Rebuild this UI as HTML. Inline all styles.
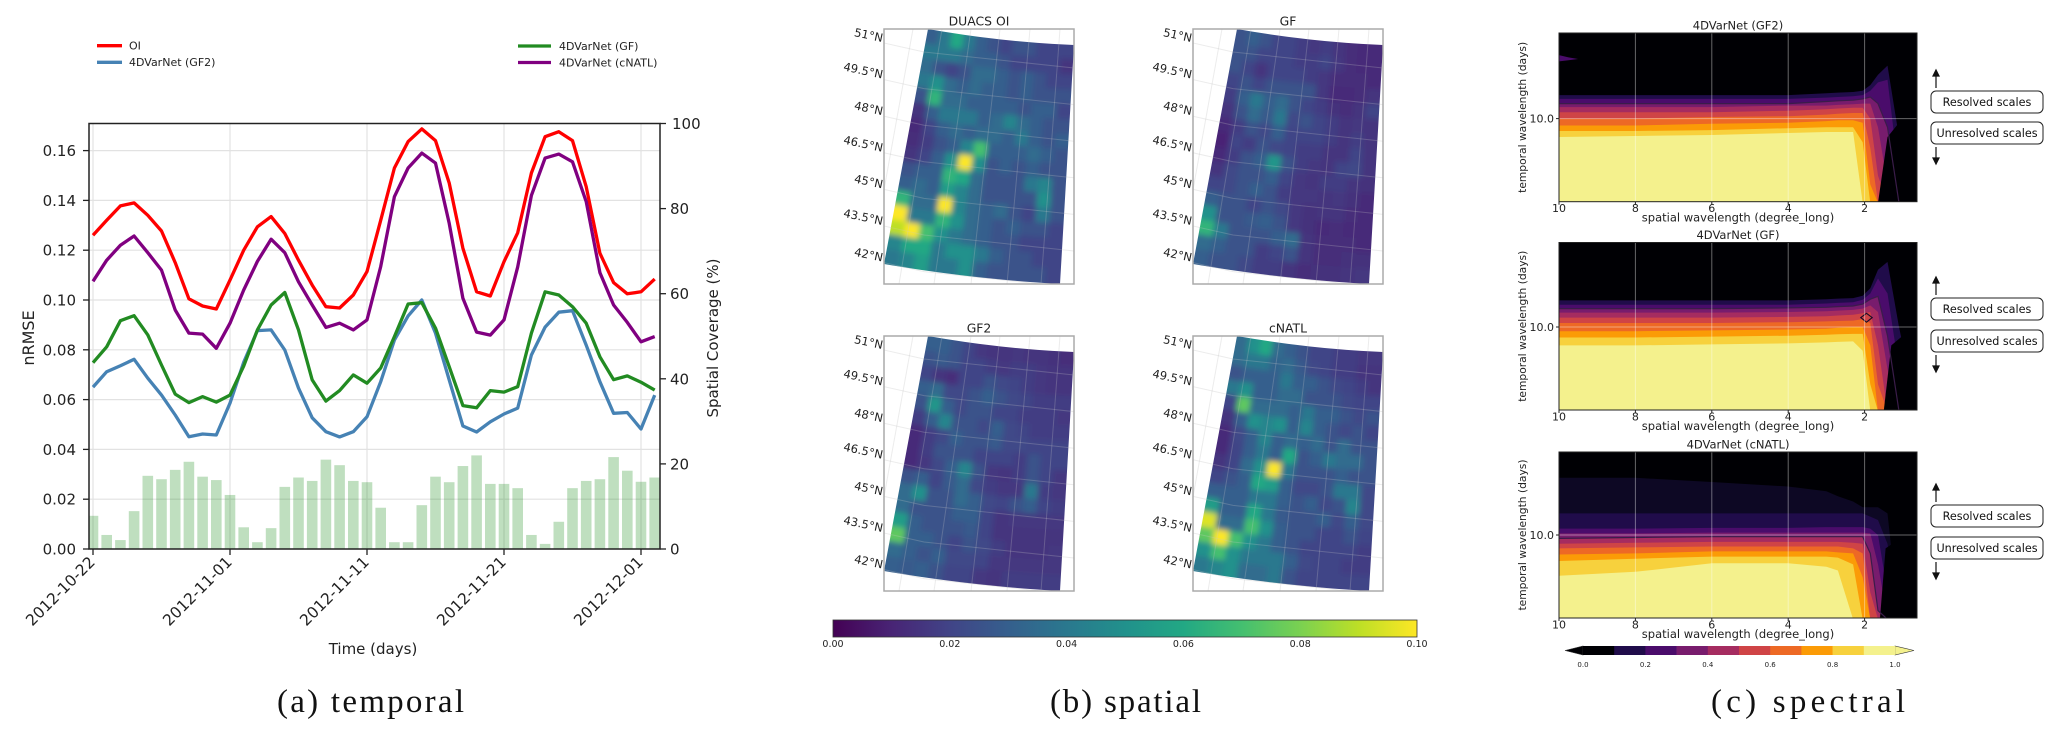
<!DOCTYPE html>
<html lang="en">
<head>
<meta charset="utf-8">
<title>Temporal, spatial and spectral comparison</title>
<style>
html,body{margin:0;padding:0;background:#fff;}
svg{display:block;font-family:"DejaVu Sans","Liberation Sans",sans-serif;}
</style>
</head>
<body>
<svg id="fig" xmlns="http://www.w3.org/2000/svg" width="2067" height="738" viewBox="0 0 2067 738">
  <defs>
    <clipPath id="plot-clip"><rect x="89" y="123.5" width="571" height="425.5"/></clipPath>
    <filter id="map-blur" filterUnits="userSpaceOnUse" x="840" y="0" width="600" height="620"><feGaussianBlur stdDeviation="3"/></filter>
    <linearGradient id="viridis-gradient" x1="0" x2="1" y1="0" y2="0"></linearGradient>
  </defs>
  <rect x="0" y="0" width="2067" height="738" fill="#fff"/>

  <g id="temporal"></g>
  <g id="spatial"></g>
  <g id="spectral"></g>

  <g font-size="11" fill="#222">
    <line x1="97" x2="122" y1="45.7" y2="45.7" stroke="#ff0000" stroke-width="3.3"/>
    <text x="129" y="49.5">OI</text>
    <line x1="97" x2="122" y1="62.3" y2="62.3" stroke="#4682b4" stroke-width="3.3"/>
    <text x="129" y="66.2">4DVarNet (GF2)</text>
    <line x1="518" x2="551" y1="46" y2="46" stroke="#228b22" stroke-width="3.3"/>
    <text x="559" y="49.8">4DVarNet (GF)</text>
    <line x1="518" x2="551" y1="62.5" y2="62.5" stroke="#800080" stroke-width="3.3"/>
    <text x="559" y="66.3">4DVarNet (cNATL)</text>
  </g>

  <text transform="translate(34 338) rotate(-90)" text-anchor="middle" font-size="16" fill="#222">nRMSE</text>
  <text transform="translate(718 338) rotate(-90)" text-anchor="middle" font-size="15" fill="#222">Spatial Coverage (%)</text>
  <text x="373" y="654" text-anchor="middle" font-size="15" fill="#222">Time (days)</text>

  <g font-family="'Liberation Serif',serif" font-size="33" fill="#111">
    <text x="277" y="712" textLength="187" lengthAdjust="spacing">(a) temporal</text>
    <text x="1050" y="712" textLength="151" lengthAdjust="spacing">(b) spatial</text>
    <text x="1711" y="712" textLength="194" lengthAdjust="spacing">(c) spectral</text>
  </g>
</svg>

<script>
/* ---------- (a) temporal chart data ---------- */
const dayIndex = [0,1,2,3,4,5,6,7,8,9,10,11,12,13,14,15,16,17,18,19,20,21,22,23,24,25,26,27,28,29,30,31,32,33,34,35,36,37,38,39,40,41];
const oiValues = [0.126,0.132,0.1378,0.139,0.134,0.1277,0.115,0.1005,0.0976,0.0964,0.108,0.12,0.1294,0.1335,0.1267,0.116,0.106,0.0973,0.0968,0.102,0.1114,0.132,0.153,0.1636,0.1687,0.164,0.147,0.1208,0.1033,0.1016,0.1154,0.127,0.151,0.1656,0.1676,0.164,0.1455,0.1188,0.107,0.1025,0.1033,0.1084];
const gf2Values = [0.065,0.0712,0.0736,0.0762,0.0686,0.0618,0.0538,0.0451,0.0462,0.0458,0.0586,0.075,0.0877,0.088,0.0799,0.0646,0.0527,0.0471,0.045,0.0471,0.0531,0.0672,0.0839,0.0936,0.1,0.0867,0.0679,0.0494,0.047,0.0511,0.0542,0.0566,0.0779,0.0891,0.0951,0.0957,0.0819,0.0672,0.0545,0.0548,0.0482,0.0618];
const gfValues = [0.0748,0.0812,0.0917,0.0937,0.086,0.0739,0.0622,0.0588,0.0612,0.059,0.0618,0.0735,0.088,0.098,0.103,0.088,0.0679,0.0594,0.0636,0.0699,0.0666,0.0727,0.0853,0.0984,0.0989,0.0887,0.0732,0.0576,0.0567,0.0636,0.063,0.0652,0.0867,0.1033,0.102,0.0973,0.0907,0.0772,0.068,0.0695,0.067,0.0638];
const cnatlValues = [0.1075,0.116,0.122,0.1257,0.119,0.112,0.096,0.0867,0.0863,0.0806,0.0907,0.104,0.1155,0.1244,0.119,0.1073,0.098,0.089,0.0907,0.088,0.092,0.1134,0.1415,0.153,0.159,0.155,0.1308,0.1007,0.0871,0.0859,0.092,0.1133,0.142,0.157,0.1586,0.1555,0.1395,0.111,0.098,0.091,0.0832,0.0853];
const coverageValues = [7.8,3.3,2.1,8.9,17.2,16.4,18.6,20.5,17,16.2,12.7,5.1,1.6,4.9,14.6,16.8,16,21,19.7,16,15.7,9.7,1.6,1.6,10.3,17,15.7,19.5,22,15.3,15.3,14.3,3.3,1.2,6.4,14.3,16,16.4,21.6,18.4,15.8,16.8];
const nrmseTicks = [0,0.02,0.04,0.06,0.08,0.1,0.12,0.14,0.16];
const coverageTicks = [0,20,40,60,80,100];
const dateTickDays = [0,10,20,30,40];
const dateTickLabels = ["2012-10-22","2012-11-01","2012-11-11","2012-11-21","2012-12-01"];

/* ---------- (b) spatial map data: gridded nRMSE x 100 ---------- */
const oiMap = [
[3,4,6,4,3,2.5,2,2.5,2.5,2,2,2],
[4,4,4,3.5,3,3,2.5,2,2,2,2,1.5],
[3.5,2.5,2,2.5,3.5,3.5,3,2.5,3,2.5,2,2],
[4,5,3.5,3,3.5,3,3,2.5,3,2.5,2.5,2.5],
[2.5,6.5,3.5,3.5,3,3,3,3,2.5,3,3,2],
[1.5,3,4,4,4,3,3.5,4.5,3.5,3,2.5,2.5],
[1.2,2,3,3.5,3,3.5,3.5,3,4,3,2.5,3],
[1.3,1.8,2.5,3,4.5,7,3,3,3,3.5,3,2.5],
[1.5,2,3,5,11,5,2.5,3,2.5,3,2.5,2.5],
[2.5,3,3,6.5,6,3.5,2.5,2.5,2.5,4,4.5,2.5],
[3,3.5,3,5.5,4.5,3.5,2.5,2.5,2.5,2.5,5,2.5],
[6.5,3.5,3.5,10.5,4.5,3.5,3,3.5,2.5,2,4,2.5],
[10,4,4,6.5,5,3.5,3,2.5,3,2.5,2.5,2],
[9,11,7,5,4,3.5,3,2.5,2.5,2,2,2],
[4.5,6,6,4,5,5,4,3,2.5,2.5,2,2],
[4,4.5,5.5,4,4,5,3,2.5,2.5,2.5,2.5,2]];
const gfMap = [
[2.5,3,2.5,2,2,1.8,1.6,1.8,1.5,1.3,1.2,1.2],
[2.5,2.5,2,2,2,1.8,1.8,2,1.6,1.3,1.2,1.2],
[2.5,2,1.5,2,2,2,1.8,1.6,1.3,1.3,1.3,1.2],
[2,2.5,2,2.5,2.5,2.5,2.5,1.6,1.2,1.2,1.3,1.5],
[1.8,3,4,3,3.5,2.5,2,1.8,1.4,1.3,1.5,2],
[1.5,2.5,3.5,2.8,4,2.2,2.5,2,1.8,1.5,1.6,1.5],
[1.2,1.8,2.5,2.2,3,2,2,2,1.8,1.5,1.8,1.5],
[1,2,1.8,2.5,2.2,2,1.8,1.8,1.5,1.5,2,1.5],
[1.2,1.8,2.5,3,5.2,2.5,1.8,1.6,1.5,2,2.2,1.5],
[1.5,2.2,2.5,2.5,3,2,1.6,1.5,1.8,1.8,1.5,1.4],
[2,2.2,2.5,3,2.5,1.8,1.6,1.6,1.5,1.6,1.4,1.2],
[3,2.5,2.5,2,2.5,2.2,1.6,1.4,1.5,1.5,1.3,1.2],
[5,2.5,2.5,2.8,3,2.5,1.6,1.4,1.2,1.3,1.2,1.2],
[6.5,4,2.5,2.5,2.5,3,3.5,1.5,1.3,1.3,1.3,1.2],
[3.5,3,2.5,2.5,1.8,2,2.5,1.5,1.3,1.3,1.4,1.4],
[3,2.5,2.5,2.2,1.8,1.8,1.5,1.3,1.4,1.4,1.5,1.6]];
const gf2Map = [
[3,3,2.5,2,1.6,1.5,1.5,1.6,1.5,1.5,1.4,1.3],
[2.5,2.8,2.5,2,2,1.8,1.6,1.8,1.8,1.6,1.5,1.5],
[2,1.5,1.3,2,2,2.5,2.2,2,1.8,1.6,1.5,1.5],
[3,3.5,2.2,2.2,2.5,3,2.5,2.2,2,1.8,1.8,1.8],
[2.5,5.2,3,2.2,2.5,2.5,2,2,1.8,1.8,1.8,1.6],
[1.8,3,4.5,2.5,2.5,2.2,3,2.2,2,1.8,1.8,1.8],
[1.2,1.8,2.2,3,2.5,2.5,2.8,2.2,2.2,2,2,2],
[1.2,1.8,2.5,2.5,2.5,2,2,2,1.8,2.5,2,2],
[1.2,1.6,2.2,3,4.5,2.5,1.6,1.5,1.8,2.5,2,1.6],
[2.5,3,2,2.8,3.5,2.2,1.8,1.6,1.6,4,1.8,1.6],
[3.5,5,2.5,2.5,3.5,3,2.2,2,2.5,3,2,1.8],
[3.5,2.5,2.5,2.5,3,3,2,1.5,1.6,1.6,1.6,1.6],
[5.5,3,2.5,2.5,2.5,2.8,2,1.5,1.5,1.5,1.5,1.5],
[7.5,3,3,2.5,2,2.5,2.2,1.8,1.5,1.5,1.5,1.6],
[3.5,3,2.5,3,2.2,2.2,2,1.6,1.6,1.6,1.6,1.6],
[3,2.8,3,2.5,2,2,1.6,1.5,1.8,1.8,1.8,1.8]];
const cnatlMap = [
[3.5,5,6,3.5,3,2.5,2,2,1.8,1.8,1.6,1.6],
[3.5,4,4,3.2,3.5,2.8,2.2,2,1.8,1.8,1.5,1.5],
[2.5,3,3,3,4,3,3,2.5,2.2,2,1.8,1.5],
[4,5,3,3,3.5,3.5,2.5,2.5,2.5,2.2,2,2],
[2,7.5,3.5,3.5,3.5,3,4,3,3,2.5,2.2,2.5],
[1.5,3,5,4.5,5,3,4.5,3,2.5,2.2,2.5,2],
[1.2,2.2,3,4.5,3,3.5,3,3.5,2.5,3.5,2.5,2.5],
[1.2,2,3,4,3,6,2.5,3,4,3.5,3.5,2.5],
[1.5,2,3.5,5,11,4,2.5,2.5,2.5,3,2.5,2.5],
[2,2.5,3,6,5.5,3,2.2,2.2,2.5,4,4,2.2],
[3,3,3,4,4,3,2.5,3,2.2,2.5,4.5,2.2],
[5.5,3,3,6,4,2.8,2.5,2.5,3,2.2,3,2.2],
[9.5,3.5,3.5,7,5,3,2.5,2.5,2,2,2.5,2],
[7.5,11,7,5,4,3,2.5,2,2,2,2,1.8],
[5,7,5,4,4,4,3,2.2,2,2,1.8,1.8],
[4,4.5,5,3.5,3.5,4,2.5,2,2,2,2,2]];
const latitudeLabels = ["51°N","49.5°N","48°N","46.5°N","45°N","43.5°N","42°N"];
const mapColorbarTicks = [0,0.02,0.04,0.06,0.08,0.10];

/* ---------- (c) spectral data: contour boundary in days per level ---------- */
const spatialWavelengths = [10,8,6,4,3,2.7,2.3,2.05,1.85,1.65,1.4,1.1,0.63];
const spectralTicksX = [10,8,6,4,2];
const spectralColorbarTicks = [0,0.2,0.4,0.6,0.8,1];
const spectralLevels = [0.1,0.2,0.3,0.4,0.5,0.6,0.7,0.8,0.9];
const gf2Bounds = [
[13.3,13.3,13.3,13.3,13.6,13.7,13.8,14,15,17,19,8,3.6],
[12.7,12.7,12.7,12.7,12.9,13,13.1,13.3,14,15.5,16,5,3.6],
[12,12,12,12,12.3,12.4,12.5,12.7,13,12,9,3.6,3.6],
[11.5,11.5,11.5,11.7,11.7,11.8,11.9,12,12,9,4.5,3.6,3.6],
[10.8,10.8,10.8,11,11.2,11.3,11.4,11.4,10,5,3.6,3.6,3.6],
[10,10,10.2,10.3,10.5,10.6,10.7,10.7,7,3.6,3.6,3.6,3.6],
[9.2,9.2,9.4,9.5,9.7,9.8,9.8,9.5,4.5,3.6,3.6,3.6,3.6],
[8.6,8.6,8.7,8.9,9,9,9,7.5,3.6,3.6,3.6,3.6,3.6],
[8,8.1,8.2,8.4,8.5,8.5,8.5,3.6,3.6,3.6,3.6,3.6,3.6]];
const gfBounds = [
[13.8,13.8,13.8,13.8,14,14.1,14.2,14.6,16,20,22,10,3.6],
[13.1,13.1,13.1,13.1,13.3,13.4,13.5,13.9,15,18,15,6,3.6],
[12.5,12.5,12.5,12.6,12.7,12.8,12.9,13.2,14,14.5,9,3.6,3.6],
[11.9,11.9,11.9,12,12.1,12.2,12.3,12.5,13,12,6,3.6,3.6],
[11.2,11.2,11.2,11.3,11.4,11.5,11.6,11.8,12,8,3.6,3.6,3.6],
[10.5,10.5,10.5,10.6,10.7,10.75,10.8,11,10.5,5,3.6,3.6,3.6],
[9.5,9.5,9.6,9.7,9.8,9.9,10,10,8,3.6,3.6,3.6,3.6],
[8.8,8.8,8.9,9,9.1,9.15,9.2,9.2,5,3.6,3.6,3.6,3.6],
[8,8,8.1,8.2,8.3,8.35,8.4,7.5,3.6,3.6,3.6,3.6,3.6]];
const cnatlBounds = [
[13,13,13,13,13,13,13,13,12.5,12,9,3.6,3.6],
[10.8,10.8,10.9,10.9,11,11,11,11,10.8,10,5,3.6,3.6],
[10.2,10.2,10.3,10.3,10.3,10.3,10.3,10.3,10.2,7,3.6,3.6,3.6],
[9.6,9.7,9.8,9.8,9.8,9.8,9.8,9.8,8,4,3.6,3.6,3.6],
[9,9.1,9.2,9.2,9.2,9.2,9.1,9,5,3.6,3.6,3.6,3.6],
[8.5,8.6,8.7,8.7,8.7,8.7,8.5,8,3.6,3.6,3.6,3.6,3.6],
[7.9,8,8.2,8.2,8.2,8.1,8,6,3.6,3.6,3.6,3.6,3.6],
[7.3,7.5,7.7,7.7,7.7,7.6,7,3.6,3.6,3.6,3.6,3.6,3.6],
[6.1,6.4,7.1,7.1,6.8,6.5,3.6,3.6,3.6,3.6,3.6,3.6,3.6]];
const cnatlFaintBound = [20,20,19,18,17,16,15,14,14,14,13,3.6,3.6];
const gf2PatchSpatial = [10,9.75,9.5,9.75,10];
const gf2PatchDays = [21.6,21,20.6,20.3,20];
const gfDiamondSpatial = [2.1,1.95,1.8,1.95,2.1];
const gfDiamondDays = [11.2,11.8,11.2,10.6,11.2];
const gf2MaskSpatial = [1.65,1.4,1.1,0.63,0.63,1.65];
const gf2MaskDays = [3.6,8,9.5,9.5,3.6,3.6];
const gfMaskSpatial = [1.5,1.3,1,0.63,0.63,1.5];
const gfMaskDays = [3.6,8,9,9,3.6,3.6];
const cnatlMaskSpatial = [1.6,1.45,1.1,0.63,0.63,1.6];
const cnatlMaskDays = [3.6,8.5,9.5,9.5,3.6,3.6];

/* ---------- helpers ---------- */
const NS = "http://www.w3.org/2000/svg";
function make(tag, attrs, parent) {
  const node = document.createElementNS(NS, tag);
  for (const k in attrs) node.setAttribute(k, attrs[k]);
  parent.appendChild(node);
  return node;
}
const viridisStops = ["#440154","#482475","#414487","#355f8d","#2a788e","#21918c","#22a884","#44bf70","#7ad151","#bddf26","#fde725"];
function hexRgb(h){return [parseInt(h.slice(1,3),16),parseInt(h.slice(3,5),16),parseInt(h.slice(5,7),16)];}
function viridis(t){
  const c = Math.max(0,Math.min(1,t))*10;
  const i = Math.min(9,Math.floor(c));
  const f = c-i;
  const a = hexRgb(viridisStops[i]);
  const b = hexRgb(viridisStops[i+1]);
  return "rgb("+a.map((v,k)=>Math.round(v+(b[k]-v)*f)).join(",")+")";
}

/* ---------- (a) temporal chart ---------- */
const plotLeft=89, plotRight=660, plotTop=123.5, plotBottom=549;
const xDay = d => 93 + 13.7*d;
const yNrmse = v => plotBottom - v*2490;
const yCoverage = v => plotBottom - v*(plotBottom-plotTop)/100;
const temporal = document.getElementById("temporal");

nrmseTicks.forEach(v => {
  const grid = make("line",{x1:plotLeft,x2:plotRight,y1:yNrmse(v),y2:yNrmse(v),stroke:"#e2e2e2","stroke-width":1.2},temporal);
  
  
  const tick = make("line",{x1:plotLeft-6,x2:plotLeft,y1:yNrmse(v),y2:yNrmse(v),stroke:"#222","stroke-width":1.3},temporal);
  
  
  const label = make("text",{x:76,y:yNrmse(v)+5.5,"text-anchor":"end","font-size":15,fill:"#222"},temporal);
  
  
  label.textContent = v.toFixed(2);
});
dateTickDays.forEach((d,i) => {
  const grid = make("line",{x1:xDay(d),x2:xDay(d),y1:plotTop,y2:plotBottom,stroke:"#e2e2e2","stroke-width":1.2},temporal);
  
  
  const tick = make("line",{x1:xDay(d),x2:xDay(d),y1:plotBottom,y2:plotBottom+6,stroke:"#222","stroke-width":1.3},temporal);
  
  
  const label = make("text",{transform:"translate("+(xDay(d)+3)+" "+(plotBottom+14)+") rotate(-45)","text-anchor":"end","font-size":15.5,fill:"#222"},temporal);
  
  
  label.textContent = dateTickLabels[i];
});
const barGroup = make("g",{"clip-path":"url(#plot-clip)"},temporal);


dayIndex.forEach((d,i) => {
  const bar = make("rect",{x:xDay(d)-5.3,width:10.6,y:yCoverage(coverageValues[i]),height:plotBottom-yCoverage(coverageValues[i]),fill:"#008000","fill-opacity":0.25},barGroup);
  
  
});
function drawSeries(values,color,name){
  const path = make("polyline",{points:dayIndex.map((d,i)=>xDay(d).toFixed(1)+","+yNrmse(values[i]).toFixed(1)).join(" "),fill:"none",stroke:color,"stroke-width":3.3,"stroke-linejoin":"round"},temporal);
  
  
}
drawSeries(oiValues,"#ff0000","series-oi");
drawSeries(gf2Values,"#4682b4","series-gf2");
drawSeries(gfValues,"#228b22","series-gf");
drawSeries(cnatlValues,"#800080","series-cnatl");

const axisFrame = make("rect",{x:plotLeft,y:plotTop,width:plotRight-plotLeft,height:plotBottom-plotTop,fill:"none",stroke:"#222","stroke-width":1.5},temporal);


coverageTicks.forEach(v => {
  const tick = make("line",{x1:plotRight,x2:plotRight+6,y1:yCoverage(v),y2:yCoverage(v),stroke:"#222","stroke-width":1.3},temporal);
  
  
  const label = make("text",{x:v===100?672:670,y:yCoverage(v)+5.5,"font-size":15,fill:"#222"},temporal);
  
  
  label.textContent = String(v);
});

/* ---------- (b) spatial maps ---------- */
const spatial = document.getElementById("spatial");
const mapWidth=190, mapHeight=255;
function warp(u,v){
  const x = (1-v)*((1-u)*44+u*190) + v*(u*176);
  const y = (1-v)*(u*16) + v*((1-u)*235+u*255) + 10*u*(1-u);
  return [x,y];
}
function drawMap(grid,ox,oy,title,key){
  const rows=grid.length, cols=grid[0].length;
  const clipId="clip-"+key;
  const defs=make("clipPath",{id:clipId},spatial);
  const outline=[];
  for(let k=0;k<=20;k++){const p=warp(k/20,0);outline.push((ox+p[0])+","+(oy+p[1]));}
  for(let k=20;k>=0;k--){const p=warp(k/20,1);outline.push((ox+p[0])+","+(oy+p[1]));}
  make("polygon",{points:outline.join(" ")},defs);
  const frameClip=make("clipPath",{id:clipId+"-frame"},spatial);
  make("rect",{x:ox,y:oy,width:mapWidth,height:mapHeight},frameClip);

  const latLines=make("g",{"clip-path":"url(#"+clipId+"-frame)",fill:"none"},spatial);
  
  

  const shell=make("g",{"clip-path":"url(#"+clipId+")"},spatial);
  
  
  const blurred=make("g",{filter:"url(#map-blur)"},shell);
  
  
  grid.forEach((row,j)=>row.forEach((value,i)=>{
    const u0=i===0?-0.15:i/cols, u1=i===cols-1?1.15:(i+1)/cols;
    const v0=j===0?-0.12:j/rows, v1=j===rows-1?1.12:(j+1)/rows;
    const pts=[warp(u0,v0),warp(u1,v0),warp(u1,v1),warp(u0,v1)].map(p=>(ox+p[0]).toFixed(1)+","+(oy+p[1]).toFixed(1)).join(" ");
    const col=viridis(value/10);
    const cell=make("polygon",{points:pts,fill:col,stroke:col,"stroke-width":1},blurred);
    
    
  }));
  const drawGraticule=(parent,opacity)=>{
    latitudeLabels.forEach((_,k)=>{
      const y0=oy+14+36.6*k;
      const line=make("polyline",{points:ox+","+y0+" "+(ox+40)+","+(y0+9)+" "+(ox+190)+","+(y0+25),fill:"none",stroke:"#c8c8c8","stroke-opacity":opacity,"stroke-width":1},parent);
      
      
    });
    [[29,-17],[58,15],[87,50],[116,87],[146,123],[176,157]].forEach(e=>{
      const line=make("line",{x1:ox+e[0],y1:oy,x2:ox+e[1],y2:oy+mapHeight,stroke:"#c8c8c8","stroke-opacity":opacity,"stroke-width":1},parent);
      
      
    });
  };
  drawGraticule(latLines,0.35);
  drawGraticule(shell,0.26);

  const frame=make("rect",{x:ox,y:oy,width:mapWidth,height:mapHeight,fill:"none",stroke:"#aaa","stroke-width":1.5},spatial);
  
  
  const titleText=make("text",{x:ox+95,y:oy-3.5,"text-anchor":"middle","font-size":12.4,fill:"#222"},spatial);
  
  
  titleText.textContent=title;
  latitudeLabels.forEach((lab,k)=>{
    const yc=oy+9+36.6*k;
    const t=make("text",{transform:"translate("+(ox-2)+" "+(yc+4)+") rotate(12)","text-anchor":"end","font-size":11.5,fill:"#222"},spatial);
    
    
    t.textContent=lab;
  });
}
drawMap(oiMap,884,29,"DUACS OI","oi");
drawMap(gfMap,1193,29,"GF","gf");
drawMap(gf2Map,884,336,"GF2","gf2");
drawMap(cnatlMap,1193,336,"cNATL","cnatl");

const gradient=document.getElementById("viridis-gradient");
viridisStops.forEach((c,i)=>{make("stop",{offset:(i*10)+"%","stop-color":c},gradient);});
const mapBar=make("rect",{x:833,y:620,width:584,height:17,fill:"url(#viridis-gradient)",stroke:"#333","stroke-width":0.8},spatial);


mapColorbarTicks.forEach(v=>{
  const x=833+v/0.1*584;
  const t=make("text",{x:x,y:647,"text-anchor":"middle","font-size":9.5,fill:"#222"},spatial);
  
  
  t.textContent=v.toFixed(2);
});

/* ---------- (c) spectral panels ---------- */
const spectral=document.getElementById("spectral");
const bandColors=["#200c4a","#4a0c6b","#781c6d","#a52c60","#cf4446","#ed6925","#fb9b06","#f7d13d","#f4f18d"];
const xSpatial=v=>1559+(10-v)*38.2;
const specLeft=1559, specRight=1917;
function drawSpectral(bounds,faint,maskSpatial,maskDays,top,bottom,tickY,title,key,contourIdx,boxes){
  const ySpec=d=>tickY-190*Math.log10(d/10);
  const clip=make("clipPath",{id:"spec-clip-"+key},spectral);
  make("rect",{x:specLeft,y:top,width:specRight-specLeft,height:bottom-top},clip);
  const bg=make("rect",{x:specLeft,y:top,width:specRight-specLeft,height:bottom-top,fill:"#000004"},spectral);
  
  
  const plot=make("g",{"clip-path":"url(#spec-clip-"+key+")"},spectral);
  
  
  const boundaryPts=arr=>spatialWavelengths.map((s,i)=>xSpatial(s).toFixed(1)+","+ySpec(arr[i]).toFixed(1));
  if(faint){
    const f=make("polygon",{points:boundaryPts(faint).concat([specRight+","+bottom,specLeft+","+bottom]).join(" "),fill:"#0d0824"},plot);
    
    
  }
  bounds.forEach((arr,k)=>{
    const band=make("polygon",{points:boundaryPts(arr).concat([specRight+","+bottom,specLeft+","+bottom]).join(" "),fill:bandColors[k]},plot);
    
    
  });
  const mask=make("polygon",{points:maskSpatial.map((s,i)=>xSpatial(s).toFixed(1)+","+ySpec(maskDays[i]).toFixed(1)).join(" "),fill:"#000004"},plot);
  
  
  const contour=make("polyline",{points:boundaryPts(bounds[contourIdx]).join(" "),fill:"none",stroke:"#3a1c4a","stroke-width":1.2},plot);
  
  
  if(key==="gf2"){
    const patch=make("polygon",{points:gf2PatchSpatial.map((s,i)=>xSpatial(s).toFixed(1)+","+ySpec(gf2PatchDays[i]).toFixed(1)).join(" "),fill:"#4a0c6b"},plot);
    
    
  }
  if(key==="gf"){
    const diamond=make("polygon",{points:gfDiamondSpatial.map((s,i)=>xSpatial(s).toFixed(1)+","+ySpec(gfDiamondDays[i]).toFixed(1)).join(" "),fill:"none",stroke:"#160a26","stroke-width":1.1},plot);
    
    
  }
  spectralTicksX.forEach(v=>{
    const g=make("line",{x1:xSpatial(v),x2:xSpatial(v),y1:top,y2:bottom,stroke:"#fff","stroke-opacity":0.4,"stroke-width":1},plot);
    
    
    const tick=make("line",{x1:xSpatial(v),x2:xSpatial(v),y1:bottom,y2:bottom+3,stroke:"#222","stroke-width":1},spectral);
    
    
    const lab=make("text",{x:xSpatial(v),y:bottom+10.5,"text-anchor":"middle","font-size":11,fill:"#222"},spectral);
    
    
    lab.textContent=String(v);
  });
  const hGrid=make("line",{x1:specLeft,x2:specRight,y1:ySpec(10),y2:ySpec(10),stroke:"#fff","stroke-opacity":0.4,"stroke-width":1},plot);
  
  
  const yLab=make("text",{x:1554,y:ySpec(10)+4,"text-anchor":"end","font-size":11,fill:"#222"},spectral);
  
  
  yLab.textContent="10.0";
  const yTick=make("line",{x1:1556,x2:specLeft,y1:ySpec(10),y2:ySpec(10),stroke:"#222","stroke-width":1},spectral);
  
  
  const frame=make("rect",{x:specLeft,y:top,width:specRight-specLeft,height:bottom-top,fill:"none",stroke:"#222","stroke-width":1},spectral);
  
  
  const titleText=make("text",{x:1738,y:top-3.5,"text-anchor":"middle","font-size":11.5,fill:"#222"},spectral);
  
  
  titleText.textContent=title;
  const xTitle=make("text",{x:1738,y:bottom+20,"text-anchor":"middle","font-size":11.5,fill:"#222"},spectral);
  
  
  xTitle.textContent="spatial wavelength (degree_long)";
  const yTitle=make("text",{transform:"translate(1526 "+((top+bottom)/2)+") rotate(-90)","text-anchor":"middle","font-size":10.7,fill:"#222"},spectral);
  
  
  yTitle.textContent="temporal wavelength (days)";

  [["Resolved scales",boxes[0]],["Unresolved scales",boxes[1]]].forEach(b=>{
    const r=make("rect",{x:1931,y:b[1],width:112,height:22,rx:5,fill:"#fff",stroke:"#222","stroke-width":1},spectral);
    
    
    const t=make("text",{x:1987,y:b[1]+15,"text-anchor":"middle","font-size":11.2,fill:"#111"},spectral);
    
    
    t.textContent=b[0];
  });
  const up=make("path",{d:"M1936 "+(boxes[0]-3)+"V"+(boxes[0]-20)+"M1933 "+(boxes[0]-15)+"L1936 "+(boxes[0]-21)+"L1939 "+(boxes[0]-15)+"Z",stroke:"#111","stroke-width":1.2,fill:"#111"},spectral);
  
  
  const down=make("path",{d:"M1936 "+(boxes[1]+25)+"V"+(boxes[1]+41)+"M1933 "+(boxes[1]+36)+"L1936 "+(boxes[1]+42)+"L1939 "+(boxes[1]+36)+"Z",stroke:"#111","stroke-width":1.2,fill:"#111"},spectral);
  
  
}
drawSpectral(gf2Bounds,null,gf2MaskSpatial,gf2MaskDays,33,201.7,118.6,"4DVarNet (GF2)","gf2",2,[91,122]);
drawSpectral(gfBounds,null,gfMaskSpatial,gfMaskDays,242.5,410,327,"4DVarNet (GF)","gf",2,[298,330]);
drawSpectral(cnatlBounds,cnatlFaintBound,cnatlMaskSpatial,cnatlMaskDays,452,618,535,"4DVarNet (cNATL)","cnatl",3,[505,537]);

const cbLeft=1583, cbRight=1895, cbTop=646, cbBottom=655;
const segWidth=(cbRight-cbLeft)/10;
const specCb=make("g",{},spectral);


const lowArrow=make("polygon",{points:cbLeft+","+cbTop+" "+cbLeft+","+cbBottom+" 1565,"+((cbTop+cbBottom)/2),fill:"#000004",stroke:"#333","stroke-width":0.6},specCb);


const highArrow=make("polygon",{points:cbRight+","+cbTop+" "+cbRight+","+cbBottom+" 1914,"+((cbTop+cbBottom)/2),fill:"#f4f18d",stroke:"#333","stroke-width":0.6},specCb);


["#000004"].concat(bandColors).forEach((c,i)=>{
  const seg=make("rect",{x:cbLeft+i*segWidth,y:cbTop,width:segWidth+0.3,height:cbBottom-cbTop,fill:c},specCb);
  
  
});
spectralColorbarTicks.forEach(v=>{
  const t=make("text",{x:cbLeft+v*(cbRight-cbLeft),y:667,"text-anchor":"middle","font-size":7,fill:"#222"},specCb);
  
  
  t.textContent=v.toFixed(1);
});
</script>
</body>
</html>
